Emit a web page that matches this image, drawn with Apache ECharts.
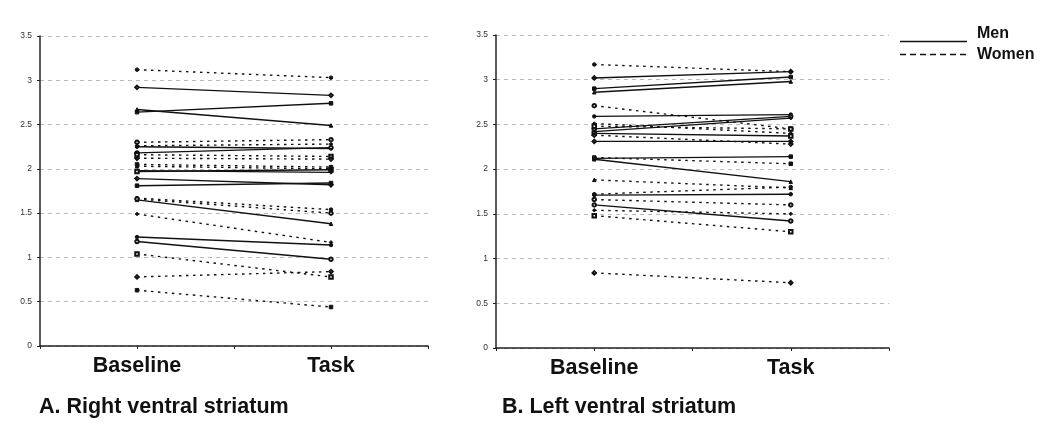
<!DOCTYPE html>
<html>
<head>
<meta charset="utf-8">
<script src="https://cdn.jsdelivr.net/npm/echarts@6/dist/echarts.min.js"></script>
<style>
html,body{margin:0;padding:0;background:#fff;}
#chart{width:1050px;height:431px;}
</style>
</head>
<body>
<div id="chart"></div>
<script>
// ---- data ----
const categories = ['Baseline', 'Task'];
const categoryPositions = [1, 3];
const yTicks = [0, 0.5, 1, 1.5, 2, 2.5, 3, 3.5];
const panelTitles = ['A. Right ventral striatum', 'B. Left ventral striatum'];
const legendNames = ['Men', 'Women'];

// Panel A: Right ventral striatum
const rightMenBaseline = [2.92, 2.64, 2.67, 2.25, 2.18, 1.98, 1.97, 1.89, 1.81, 1.65, 1.23, 1.18];
const rightMenTask     = [2.83, 2.74, 2.49, 2.23, 2.24, 1.96, 1.99, 1.82, 1.84, 1.38, 1.14, 0.98];
const rightWomenBaseline = [3.12, 2.30, 2.26, 2.16, 2.12, 2.05, 2.03, 1.67, 1.66, 1.49, 1.04, 0.78, 0.63];
const rightWomenTask     = [3.03, 2.33, 2.28, 2.14, 2.11, 2.02, 2.00, 1.54, 1.50, 1.17, 0.78, 0.84, 0.44];

// Panel B: Left ventral striatum
const leftMenBaseline = [3.02, 2.90, 2.86, 2.59, 2.45, 2.42, 2.40, 2.31, 2.12, 2.11, 1.71, 1.60];
const leftMenTask     = [3.09, 3.03, 2.98, 2.61, 2.59, 2.57, 2.37, 2.31, 2.14, 1.86, 1.72, 1.42];
const leftWomenBaseline = [3.17, 2.71, 2.51, 2.48, 2.38, 2.13, 1.88, 1.72, 1.66, 1.54, 1.48, 0.84];
const leftWomenTask     = [3.09, 2.45, 2.40, 2.45, 2.28, 2.06, 1.79, 1.80, 1.60, 1.50, 1.30, 0.73];

// ---- chart ----
const symbols = ['emptyDiamond', 'rect', 'triangle', 'circle', 'emptyCircle', 'diamond', 'emptyRect'];
const FONT = 'Liberation Sans, Arial, sans-serif';

function makeSeries(baseArr, taskArr, gender, gridIdx) {
  return baseArr.map((b, i) => ({
    type: 'line',
    name: gender,
    xAxisIndex: gridIdx,
    yAxisIndex: gridIdx,
    data: [[categoryPositions[0], b], [categoryPositions[1], taskArr[i]]],
    symbol: symbols[(i + (gender === 'Men' ? 0 : 3)) % symbols.length],
    symbolSize: 3.5,
    showSymbol: true,
    silent: true,
    animation: false,
    itemStyle: { color: '#111', borderColor: '#111', borderWidth: 1 },
    lineStyle: gender === 'Men'
      ? { color: '#111', width: 1.4, type: 'solid' }
      : { color: '#111', width: 1.4, type: [2.5, 4.5] },
    z: 3
  }));
}

function xAxisDef(gridIndex) {
  return {
    type: 'value', gridIndex, min: 0, max: 4, interval: 1,
    axisLine: { show: true, lineStyle: { color: '#222', width: 1.5 } },
    axisTick: { show: true, inside: false, length: 3, lineStyle: { color: '#222' } },
    splitLine: { show: false },
    axisLabel: {
      margin: 9, fontFamily: FONT, fontSize: 21.5, fontWeight: 'bold', color: '#111',
      formatter: v => { const k = categoryPositions.indexOf(v); return k >= 0 ? categories[k] : ''; }
    }
  };
}
function yAxisDef(gridIndex) {
  return {
    type: 'value', gridIndex, min: yTicks[0], max: yTicks[yTicks.length - 1], interval: 0.5,
    axisLine: { show: true, lineStyle: { color: '#222', width: 1.5 } },
    axisTick: { show: true, length: 3, lineStyle: { color: '#222' } },
    splitLine: { show: true, lineStyle: { color: '#bbb', type: [4, 4], width: 1 } },
    axisLabel: { margin: 8, fontFamily: FONT, fontSize: 8.5, color: '#333' }
  };
}

const chart = echarts.init(document.getElementById('chart'), null, { renderer: 'canvas' });
chart.setOption({
  backgroundColor: '#fff',
  animation: false,
  grid: [
    { left: 40, top: 36, width: 388, height: 310 },
    { left: 496, top: 35, width: 393, height: 313 }
  ],
  xAxis: [xAxisDef(0), xAxisDef(1)],
  yAxis: [yAxisDef(0), yAxisDef(1)],
  title: [
    { text: panelTitles[0], left: 39, top: 396, padding: 0, textStyle: { fontFamily: FONT, fontSize: 21.5, fontWeight: 'bold', color: '#111' } },
    { text: panelTitles[1], left: 502, top: 396, padding: 0, textStyle: { fontFamily: FONT, fontSize: 21.5, fontWeight: 'bold', color: '#111' } }
  ],
  graphic: [
    { type: 'line', shape: { x1: 900, y1: 41.5, x2: 967, y2: 41.5 }, style: { stroke: '#111', lineWidth: 1.5 } },
    { type: 'line', shape: { x1: 900, y1: 54.5, x2: 967, y2: 54.5 }, style: { stroke: '#111', lineWidth: 1.5, lineDash: [6, 4] } },
    { type: 'text', x: 977, y: 34, style: { text: legendNames[0], font: 'bold 16px ' + FONT, fill: '#111', textVerticalAlign: 'middle' } },
    { type: 'text', x: 977, y: 55, style: { text: legendNames[1], font: 'bold 16px ' + FONT, fill: '#111', textVerticalAlign: 'middle' } }
  ],
  series: [].concat(
    makeSeries(rightMenBaseline, rightMenTask, 'Men', 0),
    makeSeries(rightWomenBaseline, rightWomenTask, 'Women', 0),
    makeSeries(leftMenBaseline, leftMenTask, 'Men', 1),
    makeSeries(leftWomenBaseline, leftWomenTask, 'Women', 1)
  )
});
</script>
</body>
</html>
